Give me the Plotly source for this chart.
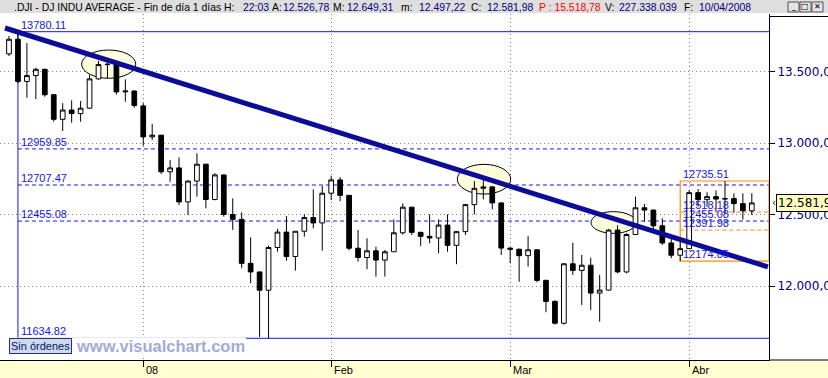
import plotly.graph_objects as go

# ---------------- data ----------------
dates = [
    "2007-12-10", "2007-12-11", "2007-12-12", "2007-12-13", "2007-12-14", "2007-12-17", "2007-12-18",
    "2007-12-19", "2007-12-20", "2007-12-21", "2007-12-24", "2007-12-26", "2007-12-27", "2007-12-28",
    "2007-12-31",
    "2008-01-02", "2008-01-03", "2008-01-04", "2008-01-07", "2008-01-08", "2008-01-09", "2008-01-10",
    "2008-01-11", "2008-01-14", "2008-01-15", "2008-01-16", "2008-01-17", "2008-01-18", "2008-01-22",
    "2008-01-23", "2008-01-24", "2008-01-25", "2008-01-28", "2008-01-29", "2008-01-30", "2008-01-31",
    "2008-02-01", "2008-02-04", "2008-02-05", "2008-02-06", "2008-02-07", "2008-02-08", "2008-02-11",
    "2008-02-12", "2008-02-13", "2008-02-14", "2008-02-15", "2008-02-19", "2008-02-20", "2008-02-21",
    "2008-02-22", "2008-02-25", "2008-02-26", "2008-02-27", "2008-02-28", "2008-02-29",
    "2008-03-03", "2008-03-04", "2008-03-05", "2008-03-06", "2008-03-07", "2008-03-10", "2008-03-11",
    "2008-03-12", "2008-03-13", "2008-03-14", "2008-03-17", "2008-03-18", "2008-03-19", "2008-03-20",
    "2008-03-24", "2008-03-25", "2008-03-26", "2008-03-27", "2008-03-28", "2008-03-31",
    "2008-04-01", "2008-04-02", "2008-04-03", "2008-04-04", "2008-04-07", "2008-04-08", "2008-04-09",
    "2008-04-10",
]
opens = [
    13625, 13727, 13432, 13473, 13517, 13339, 13167, 13232, 13207, 13245, 13450, 13550, 13550, 13359, 13365,
    13261, 13044, 13056, 12800, 12827, 12589, 12735, 12853, 12606, 12778, 12501, 12467, 12159, 12099,
    11971, 12270, 12378, 12207, 12384, 12480, 12442,
    12650, 12743, 12635, 12265, 12200, 12247, 12182, 12240, 12373, 12552, 12376, 12348, 12337, 12427,
    12285, 12381, 12570, 12684, 12694, 12582,
    12266, 12258, 12213, 12254, 12040, 11893, 11740, 12156, 12110, 12146, 11951, 11972, 12392, 12099,
    12361, 12548, 12532, 12422, 12302, 12216,
    12262, 12654, 12605, 12626, 12609, 12612, 12577, 12526.78,
]
highs = [
    13750, 13780.11, 13700, 13528, 13520, 13345, 13280, 13300, 13295, 13477, 13575, 13566, 13565, 13447, 13370,
    13280, 13134, 13058, 12882, 12900, 12740, 12929, 12855, 12790, 12780, 12614, 12516, 12341, 12100,
    12283, 12400, 12490, 12384, 12502, 12677, 12700,
    12772, 12762, 12635, 12393, 12334, 12276, 12253, 12467, 12579, 12555, 12380, 12502, 12467, 12502,
    12385, 12575, 12735, 12761, 12700, 12585,
    12270, 12262, 12351, 12258, 12045, 11900, 12160, 12304, 12218, 12199, 12078, 12400, 12425, 12370,
    12626, 12575, 12535, 12474, 12362, 12332,
    12672, 12680, 12656, 12670, 12735.51, 12649, 12649, 12649.31,
]
lows = [
    13610, 13420, 13318, 13309, 13325, 13150, 13085, 13143, 13150, 13240, 13445, 13454, 13340, 13290, 13248,
    12982, 13022, 12785, 12730, 12567, 12497, 12626, 12544, 12600, 12486, 12393, 12125, 12020, 11644,
    11634.82, 12241, 12178, 12108, 12346, 12404, 12248,
    12602, 12594, 12250, 12171, 12118, 12066, 12066, 12240, 12360, 12358, 12281, 12300, 12230, 12241,
    12153, 12358, 12502, 12607, 12537, 12218,
    12160, 12030, 12136, 12027, 11817, 11731, 11731, 12078, 11868, 11833, 11751, 11970, 12090, 12090,
    12361, 12451, 12369, 12288, 12195, 12174.85,
    12262, 12556, 12556, 12520, 12509, 12513, 12465, 12497.22,
]
closes = [
    13727, 13432, 13473, 13517, 13339, 13167, 13232, 13207, 13245, 13450, 13550, 13552, 13359, 13365, 13264,
    13044, 13056, 12800, 12827, 12589, 12735, 12853, 12606, 12778, 12501, 12467, 12159, 12099, 11971,
    12270, 12378, 12207, 12384, 12480, 12442, 12650,
    12743, 12635, 12265, 12200, 12247, 12182, 12240, 12373, 12552, 12376, 12348, 12337, 12427, 12285,
    12381, 12570, 12684, 12694, 12582, 12266,
    12258, 12213, 12254, 12040, 11893, 11740, 12156, 12110, 12146, 11951, 11972, 12392, 12099, 12361,
    12548, 12532, 12422, 12302, 12216, 12262,
    12654, 12605, 12626, 12609, 12612, 12577, 12527, 12581.98,
]

# axis ticks
y_tickvals = [12000, 12500, 13000, 13500]
y_ticktext = ["12.000,00", "12.500,00", "13.000,00", "13.500,00"]
month_tick_dates = ["2008-01-02", "2008-02-01", "2008-03-03", "2008-04-01"]
month_tick_text = ["08", "Feb", "Mar", "Abr"]

# Fibonacci retracement (main)
fib_anchor = "2007-12-11"
fib_solid = [13780.11, 11634.82]
fib_dashed = [12959.85, 12707.47, 12455.08]
# Fibonacci retracement (recent)
fib2_anchor = "2008-03-31"
fib2_top, fib2_bottom = 12735.51, 12174.85
fib2_dashed = [12518.18, 12391.98]
fib2_labels = [12735.51, 12518.18, 12455.08, 12391.98, 12174.85]

# trend line (x as bar position, y as price)
trend_x = [-0.45, 84.8]
trend_y = [13806, 12134]

# highlighted zones: (x0, x1, y0, y1) in bar position / price
ellipses = [
    (8.12, 14.16, 13454, 13652),
    (50.09, 56.06, 12644, 12852),
    (65.03, 70.06, 12369, 12521),
]

last_price = 12581.98
header = [
    (".DJI - DJ INDU AVERAGE - Fin de día 1 días H:", "black"), ("22:03", "navy"),
    ("A:", "black"), ("12.526,78", "navy"), ("M:", "black"), ("12.649,31", "navy"),
    ("m:", "black"), ("12.497,22", "navy"), ("C:", "black"), ("12.581,98", "navy"),
    ("P : 15.518,78", "red"), ("V:", "black"), ("227.338.039", "navy"),
    ("F:", "black"), ("10/04/2008", "navy"),
]
header_x = [13, 242, 271, 282, 332, 346, 400, 418, 470, 486, 538, 604, 618, 683, 698]

# ---------------- figure ----------------
W, H = 828, 378
ML, MR, MT, MB = 0, 59, 14, 18
PW, PH = W - ML - MR, H - MT - MB
XR = [-1.006, 84.92]
YR = [11482.9, 13903.9]


def pxx(p):
    return (p - ML) / PW


def pxy(p):
    return (H - MB - p) / PH


idx = {d: i for i, d in enumerate(dates)}
NAVY = "#000080"
BLUE = "#1414ee"
ORANGE = "#ff8a10"

fig = go.Figure()
fig.add_trace(go.Candlestick(
    x=dates, open=opens, high=highs, low=lows, close=closes,
    increasing=dict(line=dict(color="black", width=1), fillcolor="white"),
    decreasing=dict(line=dict(color="black", width=1), fillcolor="black"),
    whiskerwidth=0, hoverinfo="skip", showlegend=False,
))

shapes = []
# frame pieces
shapes.append(dict(type="rect", xref="paper", yref="paper", x0=pxx(0), x1=pxx(W), y0=pxy(13), y1=pxy(0),
                   fillcolor="#dedede", line=dict(width=0), layer="below"))
shapes.append(dict(type="rect", xref="paper", yref="paper", x0=pxx(0), x1=pxx(W), y0=pxy(H), y1=pxy(360),
                   fillcolor="#ffffd2", line=dict(width=0), layer="below"))
shapes.append(dict(type="line", xref="paper", yref="paper", x0=pxx(769), x1=pxx(W), y0=pxy(360), y1=pxy(360),
                   line=dict(color="black", width=1)))
shapes.append(dict(type="line", xref="paper", yref="paper", x0=pxx(769.5), x1=pxx(W), y0=pxy(16.5), y1=pxy(16.5),
                   line=dict(color="black", width=1)))

a = idx[fib_anchor]
for lv in fib_dashed:
    shapes.append(dict(type="line", xref="x", yref="y", x0=a, x1=XR[1], y0=lv, y1=lv,
                       line=dict(color=BLUE, width=1, dash="4px,3px"), layer="between"))
for lv in fib_solid:
    shapes.append(dict(type="line", xref="x", yref="y", x0=a, x1=XR[1], y0=lv, y1=lv,
                       line=dict(color=BLUE, width=1), layer="between"))
shapes.append(dict(type="line", xref="x", yref="y", x0=a, x1=a, y0=fib_solid[1], y1=fib_solid[0],
                   line=dict(color=BLUE, width=1), layer="between"))

b = idx[fib2_anchor]
for lv in fib2_dashed:
    shapes.append(dict(type="line", xref="x", yref="y", x0=b, x1=XR[1], y0=lv, y1=lv,
                       line=dict(color=ORANGE, width=1, dash="4px,3px"), layer="between"))
shapes.append(dict(type="rect", xref="x", yref="y", x0=b, x1=XR[1], y0=fib2_bottom, y1=fib2_top,
                   line=dict(color=ORANGE, width=1.2), layer="between"))

for (x0, x1, y0, y1) in ellipses:
    shapes.append(dict(type="circle", xref="x", yref="y", x0=x0, x1=x1, y0=y0, y1=y1,
                       fillcolor="#fdfcdc", line=dict(color="black", width=1), layer="between"))

shapes.append(dict(type="line", xref="x", yref="y", x0=trend_x[0], x1=trend_x[1], y0=trend_y[0], y1=trend_y[1],
                   line=dict(color="#0c0c98", width=5), layer="above"))

# footer strip behind watermark / button
shapes.append(dict(type="rect", xref="paper", yref="paper", x0=pxx(0.5), x1=pxx(246), y0=pxy(357), y1=pxy(337.6),
                   fillcolor="white", line=dict(width=0), layer="above"))

# window buttons
for bx in (788, 800, 812):
    shapes.append(dict(type="rect", xref="paper", yref="paper", x0=pxx(bx), x1=pxx(bx + 11), y0=pxy(12), y1=pxy(2),
                       fillcolor="#e4e4e4", line=dict(color="#505050", width=1)))

ann = []
hfont = dict(family="Liberation Sans, Arial", size=10.4)
for (t, c), xx in zip(header, header_x):
    col = {"navy": NAVY, "red": "#ff0000", "black": "black"}[c]
    ann.append(dict(text=t, xref="paper", yref="paper", x=pxx(xx), y=pxy(7.2), xanchor="left", yanchor="middle",
                    showarrow=False, font=dict(hfont, color=col), borderpad=0))
for bx, g in zip((788, 800, 812), ("_", "□", "✕")):
    ann.append(dict(text=g, xref="paper", yref="paper", x=pxx(bx + 5.5), y=pxy(7), xanchor="center",
                    yanchor="middle", showarrow=False, font=dict(family="DejaVu Sans", size=8, color="black")))

lfont = dict(family="Liberation Sans, Arial", size=11, color=BLUE)
for lv in fib_solid + fib_dashed:
    ann.append(dict(text=f"{lv:.2f}", xref="x", yref="y", x=a, y=lv, xanchor="left", yanchor="bottom",
                    xshift=2, yshift=0, showarrow=False, font=lfont, borderpad=0))
for lv in fib2_labels:
    ann.append(dict(text=f"{lv:.2f}", xref="x", yref="y", x=b, y=lv, xanchor="left", yanchor="bottom",
                    xshift=2, yshift=0, showarrow=False, font=lfont, borderpad=0))

for d, t in zip(month_tick_dates, month_tick_text):
    ann.append(dict(text=t, xref="x", yref="paper", x=idx[d], y=pxy(369.5), xanchor="left", yanchor="middle",
                    xshift=1, showarrow=False, font=dict(family="Liberation Sans, Arial", size=11, color="black")))

ann.append(dict(text="Sin órdenes", xref="paper", yref="paper", x=pxx(9), y=pxy(346), xanchor="left",
                yanchor="middle", showarrow=False, bgcolor="#c9dcef", bordercolor="#303070", borderwidth=1,
                borderpad=1, font=dict(family="Liberation Sans, Arial", size=11, color="#101060")))
ann.append(dict(text="<b>www.visualchart.com</b>", xref="paper", yref="paper", x=pxx(74), y=pxy(346),
                xanchor="left", yanchor="middle", showarrow=False,
                font=dict(family="Liberation Sans, Arial", size=16.5, color="#a3abd6")))

ann.append(dict(text="12.581,98", xref="paper", yref="y", x=pxx(776), y=last_price, xanchor="left",
                yanchor="middle", showarrow=False, bgcolor="#ffffc0", bordercolor="black", borderwidth=1,
                borderpad=1, font=dict(family="DejaVu Sans", size=12, color="black")))
ann.append(dict(text="‹", xref="paper", yref="y", x=pxx(770), y=last_price, xanchor="left",
                yanchor="middle", showarrow=False, font=dict(family="DejaVu Sans", size=10, color="black")))

fig.update_layout(
    width=W, height=H, margin=dict(l=ML, r=MR, t=MT, b=MB, pad=0, autoexpand=False),
    paper_bgcolor="white", plot_bgcolor="white", showlegend=False,
    shapes=shapes, annotations=ann, boxgap=0.25,
    xaxis=dict(type="category", range=XR, rangeslider=dict(visible=False), tickmode="array",
               tickvals=[idx[d] for d in month_tick_dates], ticktext=month_tick_text, showticklabels=False,
               ticks="outside", ticklen=6, tickcolor="black", showgrid=True, gridcolor="#808080",
               griddash="1px,3px", gridwidth=1, showline=True, linecolor="black", linewidth=1,
               zeroline=False, fixedrange=True, automargin=False),
    yaxis=dict(side="right", range=YR, tickmode="array", tickvals=y_tickvals, ticktext=y_ticktext,
               ticks="outside", ticklen=5, tickcolor="black", showgrid=True, gridcolor="#808080",
               griddash="1px,3px", gridwidth=1, showline=True, linecolor="black", linewidth=1, mirror=False,
               zeroline=False, tickfont=dict(family="DejaVu Sans", size=12, color=NAVY), fixedrange=True,
               automargin=False),
    hovermode=False,
)

fig.write_html("out.html")
